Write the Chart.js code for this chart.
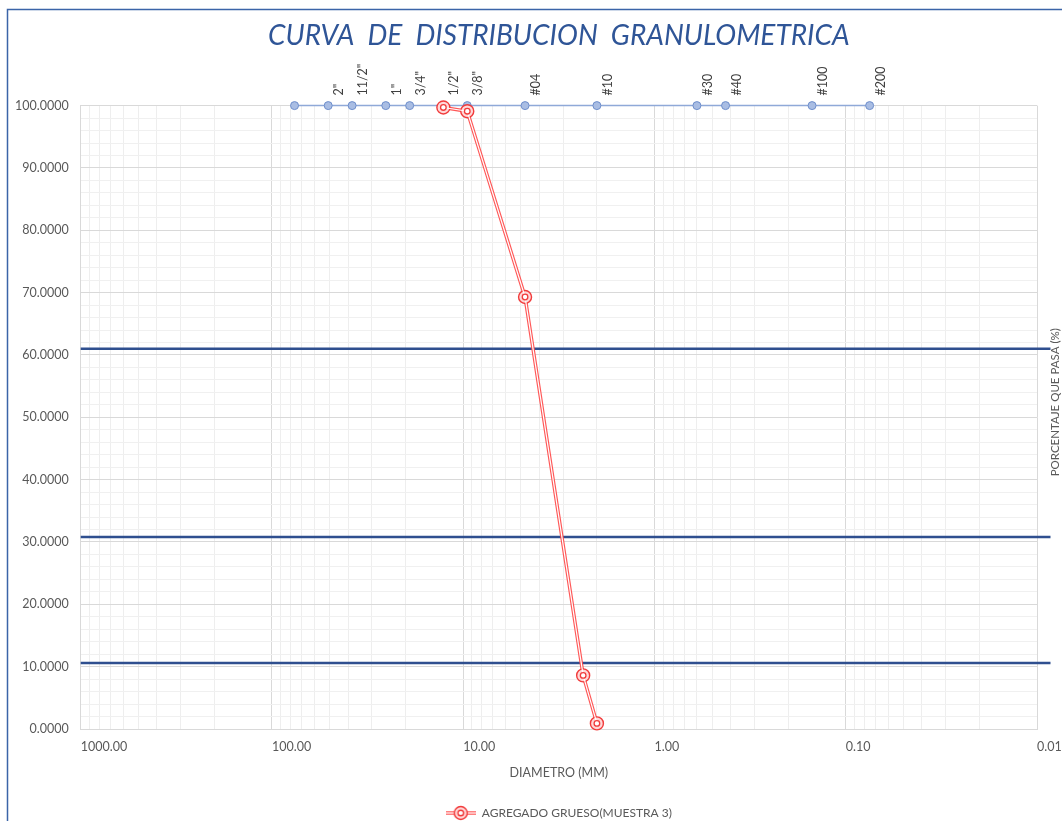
<!DOCTYPE html>
<html>
<head>
<meta charset="utf-8">
<script src="https://cdn.jsdelivr.net/npm/chart.js@4/dist/chart.umd.min.js"></script>
<style>
  html, body { margin: 0; padding: 0; background: #fff; }
  #wrap { width: 1062px; height: 821px; }
</style>
</head>
<body>
<div id="wrap"><canvas id="curva" width="1062" height="821"></canvas></div>
<script>
// tamices: abertura (mm), nombre y linea de referencia en 100 %
const tamizDiam = [76.2, 50.8, 38.1, 25.4, 19.05, 12.7, 9.525, 4.75, 2.0, 0.6, 0.425, 0.15, 0.075];
const tamizNombre = ['', '2"', '11/2"', '1"', '3/4"', '1/2"', '3/8"', '#04', '#10', '#30', '#40', '#100', '#200'];
const tamizPasa = [100, 100, 100, 100, 100, 100, 100, 100, 100, 100, 100, 100, 100];

// agregado grueso (muestra 3)
const muestraDiam = [12.7, 9.525, 4.75, 2.36, 2.0];
const muestraPasa = [99.7, 99.1, 69.3, 8.6, 0.9];

// lineas horizontales (% que pasa)
const lineasPasa = [61.0, 30.8, 10.6];
const lineasDiam = [1000, 0.0085];

const gris = '#595959';
const fuente = 'Lato, "Open Sans", sans-serif';

function esDecada(v) {
  const l = Math.log10(v);
  return Math.abs(l - Math.round(l)) < 1e-9;
}

// icono de la leyenda: linea con marcador doble
const icono = document.createElement('canvas');
icono.width = 30; icono.height = 16;
(function () {
  const c = icono.getContext('2d');
  c.strokeStyle = 'rgba(255,70,70,0.9)';
  c.lineWidth = 3.5;
  c.beginPath(); c.moveTo(0, 8); c.lineTo(30, 8); c.stroke();
  c.strokeStyle = '#fff';
  c.lineWidth = 1.2;
  c.beginPath(); c.moveTo(0, 8); c.lineTo(30, 8); c.stroke();
  c.fillStyle = 'rgba(255,215,215,1)';
  c.strokeStyle = 'rgba(240,50,50,0.95)';
  c.lineWidth = 1.4;
  c.beginPath(); c.arc(15, 8, 6.5, 0, Math.PI * 2); c.fill(); c.stroke();
  c.fillStyle = '#fff';
  c.beginPath(); c.arc(15, 8, 2.8, 0, Math.PI * 2); c.fill(); c.stroke();
})();

const lineasDatasets = lineasPasa.map(p => ({
  label: 'linea ' + p,
  data: lineasDiam.map(d => ({ x: d, y: p })),
  showLine: true,
  borderColor: '#2f4f8f',
  borderWidth: 2.5,
  pointRadius: 0,
  clip: false,
  order: 4
}));

const marco = {
  id: 'marco',
  beforeDraw(chart) {
    const c = chart.ctx;
    c.save();
    c.fillStyle = '#fff';
    c.fillRect(0, 0, chart.width, chart.height);
    c.strokeStyle = '#3b64a8';
    c.lineWidth = 1.5;
    c.beginPath();
    c.moveTo(7.5, chart.height + 5);
    c.lineTo(7.5, 9.5);
    c.lineTo(chart.width + 5, 9.5);
    c.stroke();
    c.restore();
  }
};

const etiquetasTamiz = {
  id: 'etiquetasTamiz',
  afterDatasetsDraw(chart) {
    const c = chart.ctx;
    const x = chart.scales.x;
    const top = chart.chartArea.top;
    c.save();
    c.fillStyle = '#404040';
    c.font = '12.5px ' + fuente;
    c.textAlign = 'left';
    c.textBaseline = 'middle';
    tamizDiam.forEach((d, i) => {
      if (!tamizNombre[i]) return;
      c.save();
      c.translate(x.getPixelForValue(d) + 11, top - 10);
      c.rotate(-Math.PI / 2);
      c.fillText(tamizNombre[i], 0, 0);
      c.restore();
    });
    c.restore();
  }
};

const tituloDerecho = {
  id: 'tituloDerecho',
  afterDraw(chart) {
    const a = chart.chartArea;
    const c = chart.ctx;
    c.save();
    c.fillStyle = gris;
    c.font = '11.5px ' + fuente;
    c.textAlign = 'center';
    c.textBaseline = 'middle';
    c.translate(a.right + 18, (a.top + a.bottom) / 2 - 15);
    c.rotate(-Math.PI / 2);
    c.fillText('PORCENTAJE QUE PASA (%)', 0, 0);
    c.restore();
  }
};

new Chart(document.getElementById('curva'), {
  type: 'scatter',
  data: {
    datasets: [
      {
        label: 'interior',
        data: muestraDiam.map((d, i) => ({ x: d, y: muestraPasa[i] })),
        showLine: true,
        borderColor: '#ffffff',
        borderWidth: 1.2,
        pointRadius: 2.8,
        pointBackgroundColor: '#fff',
        pointBorderColor: 'rgba(240,50,50,0.95)',
        pointBorderWidth: 1.3,
        clip: false,
        order: 0
      },
      {
        label: 'AGREGADO GRUESO(MUESTRA 3)',
        data: muestraDiam.map((d, i) => ({ x: d, y: muestraPasa[i] })),
        showLine: true,
        borderColor: 'rgba(255,70,70,0.9)',
        borderWidth: 3.5,
        pointRadius: 6.5,
        pointBackgroundColor: 'rgba(255,215,215,1)',
        pointBorderColor: 'rgba(240,50,50,0.95)',
        pointBorderWidth: 1.4,
        pointStyle: 'circle',
        clip: false,
        order: 1
      },
      {
        label: 'tamices',
        data: tamizDiam.map((d, i) => ({ x: d, y: tamizPasa[i] })),
        showLine: true,
        borderColor: '#8fa9d8',
        borderWidth: 1.5,
        pointRadius: 4,
        pointBackgroundColor: '#a9bde3',
        pointBorderColor: '#6f8fcc',
        pointBorderWidth: 1,
        clip: false,
        order: 2
      },
      ...lineasDatasets
    ]
  },
  options: {
    responsive: false,
    animation: false,
    layout: { padding: { top: 2, left: 3, right: 25, bottom: -8 } },
    scales: {
      x: {
        type: 'logarithmic',
        reverse: true,
        min: 0.01,
        max: 1000,
        afterBuildTicks(scale) {
          const t = [];
          for (let e = -2; e <= 2; e++) {
            for (let m = 1; m <= 9; m++) t.push({ value: m * Math.pow(10, e) });
          }
          t.push({ value: 1000 });
          scale.ticks = t;
        },
        ticks: {
          callback: v => esDecada(v) ? Number(v).toFixed(2) : '',
          align: 'start',
          autoSkip: false,
          maxRotation: 0,
          minRotation: 0,
          padding: 10,
          color: gris,
          font: { family: fuente, size: 12.5 }
        },
        grid: {
          drawTicks: false,
          color: ctx => (ctx.tick && esDecada(ctx.tick.value)) ? '#d9d9d9' : '#eeeeee'
        },
        border: { color: '#d9d9d9' },
        title: {
          display: true,
          text: 'DIAMETRO (MM)',
          color: gris,
          font: { family: fuente, size: 12.5 },
          padding: { top: 1, bottom: 21 }
        }
      },
      y: {
        min: 0,
        max: 100,
        ticks: {
          stepSize: 2,
          autoSkip: false,
          callback: v => v % 10 === 0 ? Number(v).toFixed(4) : '',
          padding: 12,
          color: gris,
          font: { family: fuente, size: 12.5 }
        },
        grid: {
          drawTicks: false,
          color: ctx => (ctx.tick && ctx.tick.value % 10 === 0) ? '#d9d9d9' : '#f0f0f0'
        },
        border: { color: '#d9d9d9' }
      }
    },
    plugins: {
      title: {
        display: true,
        fullSize: false,
        text: 'CURVA  DE  DISTRIBUCION  GRANULOMETRICA',
        color: '#2f5597',
        font: { family: fuente, size: 28, style: 'italic', weight: 'normal' },
        padding: { top: 17, bottom: 53 }
      },
      legend: {
        position: 'bottom',
        fullSize: false,
        labels: {
          usePointStyle: true,
          pointStyleWidth: 30,
          boxHeight: 16,
          padding: 6,
          color: gris,
          font: { family: fuente, size: 12 },
          generateLabels(chart) {
            return [{
              text: 'AGREGADO GRUESO(MUESTRA 3)',
              pointStyle: icono,
              fontColor: gris,
              lineWidth: 0,
              hidden: false,
              datasetIndex: 1
            }];
          }
        }
      },
      tooltip: { enabled: false }
    }
  },
  plugins: [marco, etiquetasTamiz, tituloDerecho]
});
</script>
</body>
</html>
